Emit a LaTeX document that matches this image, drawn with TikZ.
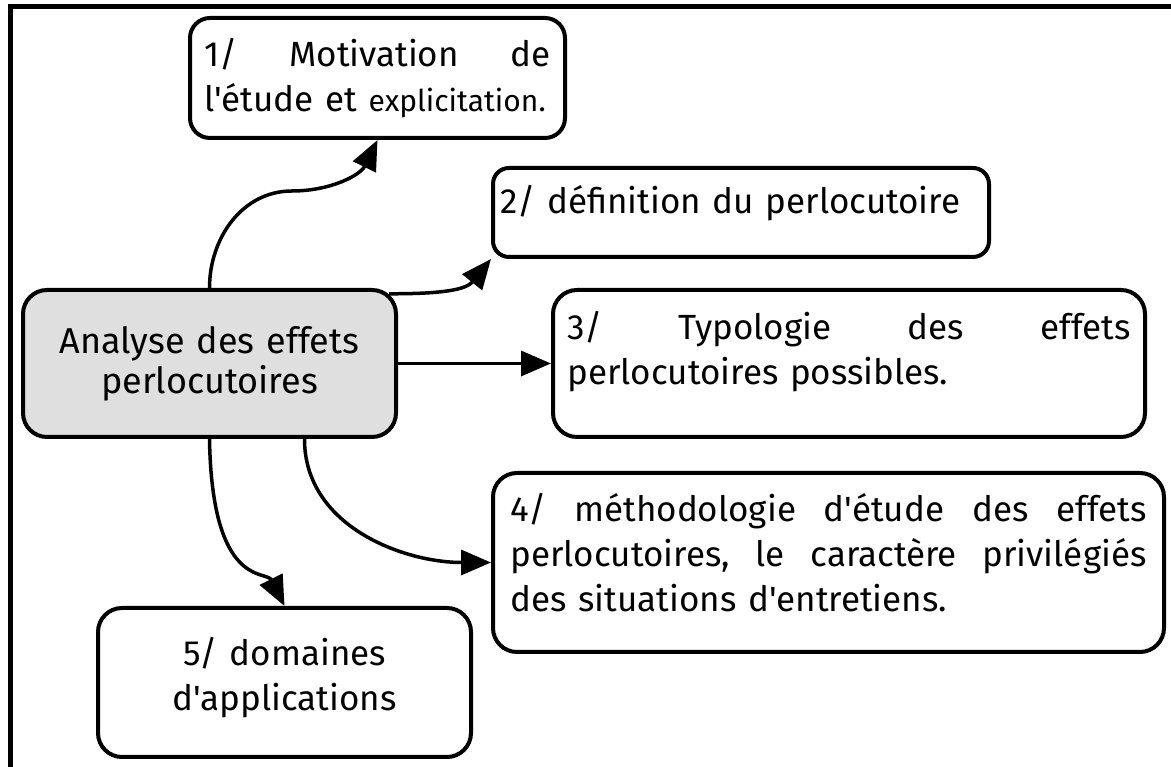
\documentclass[tikz,border=0pt]{standalone}
\usepackage{fontspec}
\setmainfont{Fira Sans}[Ligatures=TeXOff]
\usepackage{xcolor}
\usepackage{tikz}
\usetikzlibrary{arrows.meta,positioning,calc}

\definecolor{hubgray}{RGB}{223,223,223}
% extra room under the text, lifts it inside its box
\newcommand{\tailpad}[1]{\par\nointerlineskip\kern#1\hbox{}}

\tikzset{
  topic/.style={draw, line width=4pt, rounded corners=24pt, align=left,
    inner sep=0pt, font=\fontsize{35}{45}\selectfont},
  link/.style={line width=3.5pt, -{Triangle[length=30pt,width=25pt]}}
}

\begin{document}
\begin{tikzpicture}[x=1pt, y=1pt]
  \useasboundingbox (0,0) rectangle (1171,767);
  % Frame (top and left only)
  \draw[line width=4.7pt, line join=miter] (1171,760.5) -- (10.3,760.5) -- (10.3,0);

  % Central topic
  \node[topic, fill=hubgray, align=center, text width=340pt, minimum width=373pt,
    minimum height=147pt, font=\fontsize{36}{40}\selectfont]
    (cent) at (209.5,403.5) {Analyse des effets\\perlocutoires};

  % Sub-topics
  \node[topic, text width=346pt, minimum width=375pt, minimum height=120pt,
    rounded corners=20pt] (mot) at (377.5,689)
    {1/\hfill Motivation\hfill de\\l'étude et {\fontsize{30}{45}\selectfont explicitation.}};
  \node[topic, text width=482pt, minimum width=496pt, minimum height=89pt,
    rounded corners=16pt] (def) at (741,554.5)
    {2/ définition du perlocutoire\tailpad{18pt}};
  \node[topic, text width=563pt, minimum width=592pt, minimum height=147pt]
    (typo) at (849,403.5)
    {3/\hfill Typologie\hfill des\hfill effets\\perlocutoires possibles.\tailpad{24pt}};
  \node[topic, text width=636pt, minimum width=671pt, minimum height=179pt]
    (meth) at (828.5,204.5)
    {4/\hfill méthodologie\hfill d'étude\hfill des\hfill effets\\
     perlocutoires,\hfill le\hfill caractère\hfill privilégiés\\
     des situations d'entretiens.\tailpad{20pt}};
  \node[topic, align=center, text width=340pt, minimum width=373pt, minimum height=149pt]
    (dom) at (284.5,84.5) {5/ domaines\\d'applications\tailpad{10pt}};

  % Connectors
  \draw[link] (cent.north) to[out=90,in=180] +(82.5,97) to[out=0,in=244] (mot.south);
  \draw[link] ([xshift=-9pt,yshift=-5.8pt]cent.north east) to[out=0,in=231] (def.south west);
  \draw[link] (cent.east) -- (typo.west);
  \draw[link] ([xshift=95pt]cent.south) to[out=-90,in=180] (meth.west);
  \draw[link] (cent.south) .. controls +(2.5,-150) and +(-18,36) .. (dom.north);
\end{tikzpicture}
\end{document}
